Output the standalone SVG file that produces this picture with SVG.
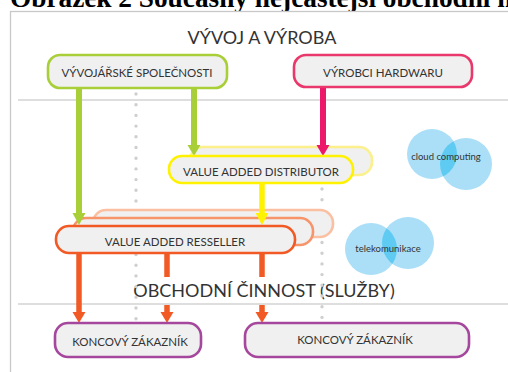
<svg xmlns="http://www.w3.org/2000/svg" width="508" height="372" viewBox="0 0 508 372">
<style>
.node rect{fill:#f0f0f0;stroke-width:2.6}
.lbl{font-family:Lato,"Open Sans","Liberation Sans",sans-serif;font-size:11.5px;fill:#333;text-anchor:middle}
.sec{font-family:Lato,"Open Sans","Liberation Sans",sans-serif;font-size:18px;fill:#333;text-anchor:middle}
.ctx{font-family:Lato,"Open Sans","Liberation Sans",sans-serif;font-size:9.5px;fill:#333;text-anchor:middle}
.dot{stroke:#cfcfcf;stroke-width:3.4;stroke-linecap:round;stroke-dasharray:0 10.7;fill:none}
.hl{stroke:#bdbdbd;stroke-width:1.2}
.c{fill:#aadff7}
.ov{fill:#5fcbf2}
</style>
<defs>
<marker id="mg" markerUnits="userSpaceOnUse" markerWidth="14" markerHeight="11" refX="7" refY="10" orient="auto" viewBox="0 0 14 11"><path d="M0 0 L14 0 L7 11 Z" fill="#a8cf38" transform="rotate(-90 7 5.5)"/></marker>
</defs>
<rect x="0" y="0" width="508" height="372" fill="#fff"/>
<text x="10" y="7" font-family="'Liberation Serif',serif" font-weight="bold" font-size="27px" fill="#000" textLength="510" lengthAdjust="spacingAndGlyphs">Obrázek 2  Současný nejčastější obchodní m</text>
<rect x="10.5" y="11.5" width="600" height="400" fill="#fff" stroke="#c8c8c8" stroke-width="1.3"/>
<line class="hl" x1="18" y1="100" x2="508" y2="100"/>
<line class="hl" x1="18" y1="304" x2="508" y2="304"/>
<text class="sec" x="262" y="44">VÝVOJ A VÝROBA</text>
<text class="sec" x="264" y="297">OBCHODNÍ ČINNOST (SLUŽBY)</text>
<line class="dot" x1="136" y1="94" x2="136" y2="320"/>
<line class="dot" x1="322" y1="189" x2="322" y2="320"/>
<defs>
<clipPath id="cc1"><circle cx="432" cy="154" r="25"/></clipPath>
<clipPath id="cc2"><circle cx="371" cy="249" r="26"/></clipPath>
</defs>
<g id="cloud">
<circle class="c" cx="432" cy="154" r="25"/>
<circle class="c" cx="466" cy="164" r="26"/>
<circle class="ov" cx="466" cy="164" r="26" clip-path="url(#cc1)"/>
<text class="ctx" x="446" y="160">cloud computing</text>
</g>
<g id="tele">
<circle class="c" cx="371" cy="249" r="26"/>
<circle class="c" cx="408" cy="243" r="26"/>
<circle class="ov" cx="408" cy="243" r="26" clip-path="url(#cc2)"/>
<text class="ctx" x="388" y="252">telekomunikace</text>
</g>
<g id="vad-shadow" class="node">
<rect x="190" y="147" width="182" height="28" rx="13" style="stroke:#fbf08c"/>
</g>
<g id="var-shadow" class="node">
<rect x="93" y="210" width="240" height="27" rx="13" style="stroke:#fbc0a2"/>
<rect x="73" y="218" width="240" height="27" rx="13" style="stroke:#f7946a"/>
</g>
<g id="connectors">
<g fill="none" stroke-width="6">
<line x1="79" y1="88" x2="79" y2="214" stroke="#a8cf38"/>
<line x1="194" y1="88" x2="194" y2="146" stroke="#a8cf38"/>
<line x1="323" y1="87" x2="323" y2="146" stroke="#ec1869"/>
<line x1="262" y1="183" x2="262" y2="214" stroke="#fff200" stroke-width="5.5"/>
<line x1="79" y1="253" x2="79" y2="313" stroke="#f15a24" stroke-width="5.5"/>
<line x1="167" y1="253" x2="167" y2="277" stroke="#f15a24" stroke-width="5.5"/>
<line x1="262" y1="253" x2="262" y2="277" stroke="#f15a24" stroke-width="5.5"/>
<line x1="167" y1="305" x2="167" y2="313" stroke="#f15a24" stroke-width="5.5"/>
<line x1="262" y1="305" x2="262" y2="313" stroke="#f15a24" stroke-width="5.5"/>
</g>
<path d="M72.5 213 L85.5 213 L79 225 Z" fill="#a8cf38"/>
<path d="M187.5 145 L200.5 145 L194 156 Z" fill="#a8cf38"/>
<path d="M316.5 145 L329.5 145 L323 156 Z" fill="#ec1869"/>
<path d="M255.5 213 L268.5 213 L262 225 Z" fill="#fff200"/>
<path d="M72.5 312 L85.5 312 L79 323 Z" fill="#f15a24"/>
<path d="M160.5 312 L173.5 312 L167 323 Z" fill="#f15a24"/>
<path d="M255.5 312 L268.5 312 L262 323 Z" fill="#f15a24"/>
</g>
<g id="vyvojarske" class="node">
<rect x="48" y="55" width="179" height="33" rx="12" style="stroke:#a8cf38"/>
<text class="lbl" x="137" y="77">VÝVOJÁŘSKÉ SPOLEČNOSTI</text>
</g>
<g id="vyrobci" class="node">
<rect x="294" y="55" width="178" height="32" rx="12" style="stroke:#e9386b"/>
<text class="lbl" x="383" y="77">VÝROBCI HARDWARU</text>
</g>
<g id="vad" class="node">
<rect x="169" y="156" width="184" height="27" rx="13" style="stroke:#fff200"/>
<text class="lbl" x="261" y="176">VALUE ADDED DISTRIBUTOR</text>
</g>
<g id="var" class="node">
<rect x="56" y="226" width="239" height="27" rx="13" style="stroke:#f15a24"/>
<text class="lbl" x="175" y="246">VALUE ADDED RESSELLER</text>
</g>
<g id="kz1" class="node">
<rect x="55" y="323" width="146" height="34" rx="13" style="stroke:#a5479c"/>
<text class="lbl" x="130" y="346">KONCOVÝ ZÁKAZNÍK</text>
</g>
<g id="kz2" class="node">
<rect x="245" y="323" width="224" height="34" rx="13" style="stroke:#a5479c"/>
<text class="lbl" x="355" y="344">KONCOVÝ ZÁKAZNÍK</text>
</g>
</svg>
